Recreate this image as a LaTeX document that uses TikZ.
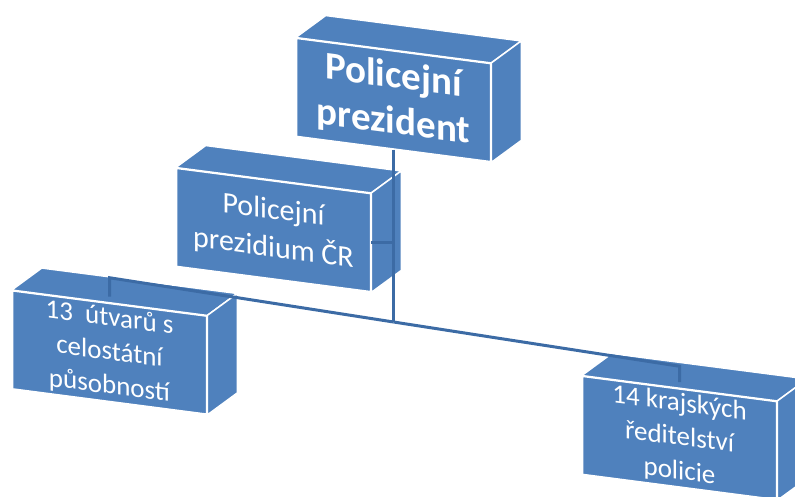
\documentclass[tikz,border=0pt]{standalone}
\usepackage{fontspec}
\setmainfont{Carlito}
\usetikzlibrary{calc}

\definecolor{boxblue}{HTML}{4F81BD}
\definecolor{linkblue}{HTML}{3C6BA5}

\tikzset{
  front/.style={draw=white, line width=1.5pt, fill=boxblue, text=white, align=center,
    minimum width=194pt, minimum height=98pt, inner sep=0pt, yslant=-0.13},
  face/.style={draw=white, line width=1.5pt, fill=boxblue, line join=round},
  link/.style={draw=linkblue, line width=3pt},
}

\begin{document}
\begin{tikzpicture}[x=1pt,y=1pt]
\useasboundingbox (0,0) rectangle (795,497);
\clip (0,0) rectangle (795,497);
% boxes
\node[front, font=\fontsize{39}{46}\selectfont\bfseries] (pres) at (393.5,397) {Policejní\\prezident};
\node[front, font=\fontsize{30}{38}\selectfont] (prez) at (273.5,267) {Policejní\\prezidium ČR};
\node[front, font=\fontsize{27}{34}\selectfont] (units) at (109.5,144.5) {13~ útvarů s\\celostátní\\působností};
\node[front, font=\fontsize{27}{34}\selectfont] (kraj) at (679.5,59) {14 krajských\\ředitelství\\policie};

% top and side faces
\foreach \n in {pres,prez,units,kraj}{
  \filldraw[face] (\n.north west) -- ++(30,22) -- ($(\n.north east)+(30,22)$) -- (\n.north east) -- cycle;
  \filldraw[face] (\n.north east) -- ++(30,22) -- ($(\n.south east)+(30,22)$) -- (\n.south east) -- cycle;
}

% connectors
\coordinate (hub) at (393.5,175);
\coordinate (lbend) at ($(units.north)+(0,25)$);
\coordinate (rbend) at ($(kraj.north)+(0,22)$);
\draw[link] (pres.south) -- (hub);
\draw[link] (prez.east) -- (prez.east -| hub);
\draw[link, shorten >=6pt] (hub) -- (lbend) -- (units.north);
\draw[link, shorten >=6pt] (hub) -- (rbend) -- (kraj.north);
\end{tikzpicture}
\end{document}
